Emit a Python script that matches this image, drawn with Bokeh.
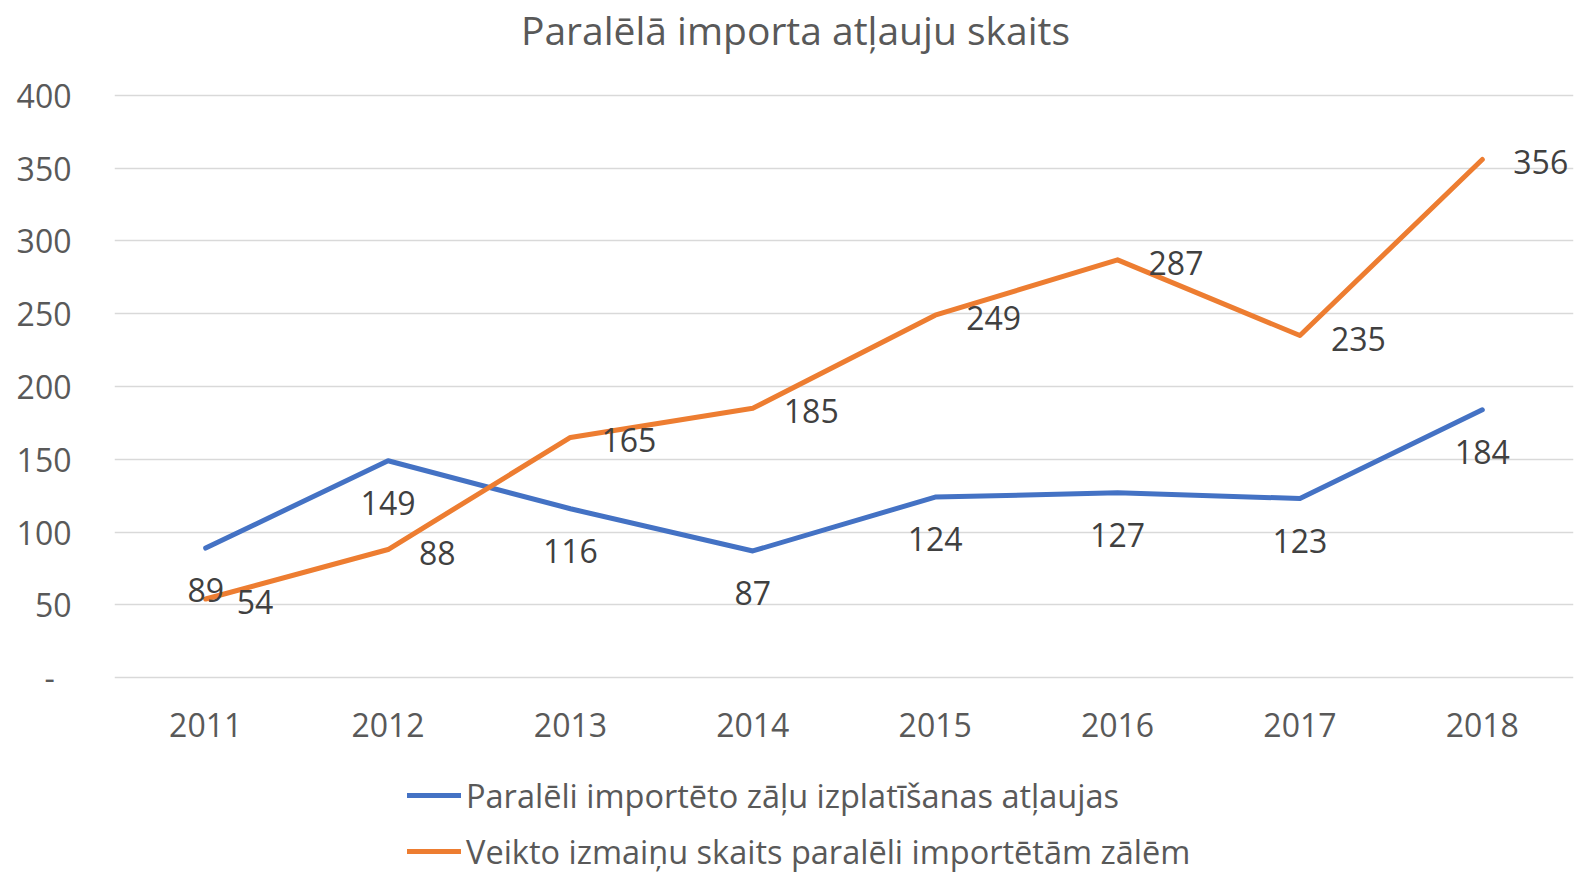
from bokeh.plotting import figure
from bokeh.models import Range1d, Legend, LegendItem, FixedTicker
from bokeh.layouts import column
from bokeh.core.properties import value
from bokeh.embed import file_html
from bokeh.resources import INLINE

years = ["2011", "2012", "2013", "2014", "2015", "2016", "2017", "2018"]
permits = [89, 149, 116, 87, 124, 127, 123, 184]
changes = [54, 88, 165, 185, 249, 287, 235, 356]
series_names = ["Paralēli importēto zāļu izplatīšanas atļaujas",
                "Veikto izmaiņu skaits paralēli importētām zālēm"]
title_text = "Paralēlā importa atļauju skaits"
y_ticks = [0, 50, 100, 150, 200, 250, 300, 350, 400]

FONT = "Open Sans"
BLUE = "#4472C4"
ORANGE = "#ED7D31"
W = 1578
LEFT = 114
RIGHT = 5


def bare(height, yr):
    # frames of the column children are aligned with the main chart frame
    f = figure(width=W, height=height, x_range=Range1d(LEFT, W - RIGHT),
               y_range=Range1d(0, yr), output_backend="svg", toolbar_location=None,
               x_axis_type=None, y_axis_type=None, min_border=0,
               min_border_left=LEFT, min_border_right=RIGHT)
    f.outline_line_color = None
    f.xgrid.visible = False
    f.ygrid.visible = False
    return f


# ---- title strip ----
t = bare(60, 60)
t.text([795], [31], text=[title_text], text_font=value(FONT), text_font_size="39px",
       text_color="#595959", text_align="center", text_baseline="middle")

# ---- main chart ----
p = figure(width=W, height=710, x_range=years, y_range=Range1d(-2, 402),
           output_backend="svg", toolbar_location=None,
           min_border_left=LEFT, min_border_right=RIGHT, min_border_top=32,
           min_border_bottom=90)
p.x_range.range_padding = 0.0
p.outline_line_color = None

p.line(years, permits, line_color=BLUE, line_width=5, line_cap="round", line_join="round")
p.line(years, changes, line_color=ORANGE, line_width=5, line_cap="round", line_join="round")

p.text(years, permits, text=[str(v) for v in permits], text_font=value(FONT),
       text_font_size="32px", text_color="#404040", text_align="center",
       text_baseline="middle", y_offset=42)
p.text(years, changes, text=[str(v) for v in changes], text_font=value(FONT),
       text_font_size="32px", text_color="#404040", text_align="left",
       text_baseline="middle", x_offset=31, y_offset=3)

p.yaxis.ticker = FixedTicker(ticks=y_ticks)
p.yaxis.major_label_overrides = {0: "-\u00a0\u00a0"}
p.yaxis.axis_line_color = None
p.yaxis.major_tick_line_color = None
p.yaxis.minor_tick_line_color = None
p.yaxis.major_tick_out = 0
p.yaxis.major_label_standoff = 43
p.yaxis.major_label_text_font = FONT
p.yaxis.major_label_text_font_size = "32px"
p.yaxis.major_label_text_color = "#595959"

p.xaxis.axis_line_color = None
p.xaxis.major_tick_line_color = None
p.xaxis.minor_tick_line_color = None
p.xaxis.major_tick_out = 0
p.xaxis.major_label_standoff = 32
p.xaxis.major_label_text_font = FONT
p.xaxis.major_label_text_font_size = "32px"
p.xaxis.major_label_text_color = "#595959"

p.xgrid.grid_line_color = None
p.ygrid.grid_line_color = "#d9d9d9"
p.ygrid.grid_line_width = 1.5

# ---- legend strip (swatch renderers hold no visible data) ----
nan = float("nan")
lg = bare(103, 103)
k1 = lg.line([nan], [nan], line_color=BLUE, line_width=5, line_cap="round")
k2 = lg.line([nan], [nan], line_color=ORANGE, line_width=5, line_cap="round")
legend = Legend(items=[LegendItem(label=series_names[0], renderers=[k1]),
                       LegendItem(label=series_names[1], renderers=[k2])],
                orientation="vertical", location=(407 - LEFT, -1),
                label_text_font=FONT, label_text_font_size="32.5px",
                label_text_color="#595959", glyph_width=54, glyph_height=46,
                label_height=46, label_standoff=5, spacing=10,
                border_line_color=None, background_fill_alpha=0,
                margin=0, padding=0)
lg.add_layout(legend, "center")

layout = column(t, p, lg, spacing=0)
open("out.html", "w").write(file_html(layout, INLINE))
